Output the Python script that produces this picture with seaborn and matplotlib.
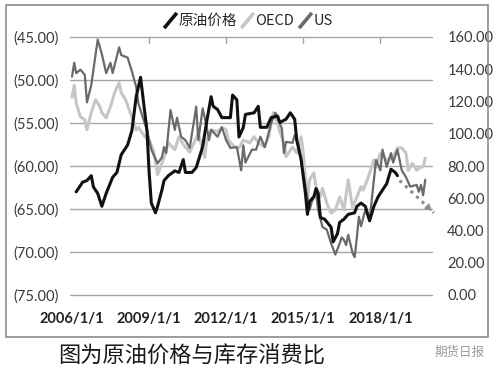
import matplotlib
matplotlib.use("Agg")
import matplotlib.pyplot as plt
from matplotlib.ticker import FuncFormatter, FixedLocator
from matplotlib.lines import Line2D
from matplotlib.patches import Rectangle
import seaborn as sns
import pandas as pd

# ---------------- data ----------------
price_dates = ["2006-03", "2006-06", "2006-08", "2006-10", "2006-11", "2007-01", "2007-03", "2007-05",
               "2007-08", "2007-10", "2007-12", "2008-03", "2008-05", "2008-07", "2008-09", "2008-12",
               "2009-01", "2009-02", "2009-04", "2009-05", "2009-07", "2009-08", "2009-10", "2010-01",
               "2010-03", "2010-05", "2010-06", "2010-09", "2010-11", "2011-02", "2011-04", "2011-06",
               "2011-07", "2011-09", "2011-11", "2012-01", "2012-03", "2012-04", "2012-06", "2012-07",
               "2012-09", "2012-10", "2013-02", "2013-04", "2013-05", "2013-08", "2013-10", "2014-01",
               "2014-02", "2014-05", "2014-07", "2014-09", "2014-10", "2014-12", "2015-02", "2015-03",
               "2015-04", "2015-06", "2015-07", "2015-08", "2015-09", "2015-11", "2016-02", "2016-03",
               "2016-05", "2016-06", "2016-08", "2016-10", "2017-01", "2017-02", "2017-04", "2017-06",
               "2017-08", "2017-10", "2017-12", "2018-03", "2018-04", "2018-06", "2018-08", "2018-09"]
price_values = [64, 70, 71, 74, 67, 63, 55, 63,
                73, 76, 87, 93, 102, 123, 135, 102,
                76, 57, 51, 55, 65, 71, 74, 77,
                76, 84, 76, 76, 79, 92, 108, 123,
                117, 115, 110, 110, 110, 124, 121, 98,
                104, 112, 113, 117, 104, 104, 110, 111,
                107, 109, 113, 109, 96, 84, 63, 50,
                58, 61, 66, 63, 48, 47, 42, 33,
                38, 45, 47, 50, 51, 55, 57, 55,
                46, 55, 61, 67, 69, 78, 76, 74]

us_dates = ["2006-01", "2006-02", "2006-03", "2006-05", "2006-07", "2006-08", "2006-10", "2006-11",
            "2007-01", "2007-03", "2007-05", "2007-07", "2007-08", "2007-11", "2007-12", "2008-03",
            "2008-05", "2008-07", "2008-08", "2008-10", "2008-12", "2009-02", "2009-05", "2009-07",
            "2009-08", "2009-09", "2009-11", "2010-01", "2010-02", "2010-04", "2010-06", "2010-08",
            "2010-11", "2010-12", "2011-02", "2011-04", "2011-05", "2011-06", "2011-09", "2011-11",
            "2012-01", "2012-03", "2012-06", "2012-08", "2012-09", "2012-10", "2013-01", "2013-03",
            "2013-05", "2013-07", "2013-08", "2013-10", "2013-12", "2014-03", "2014-04", "2014-05",
            "2014-08", "2014-09", "2014-11", "2014-12", "2015-02", "2015-04", "2015-05", "2015-07",
            "2015-08", "2015-10", "2015-12", "2016-02", "2016-04", "2016-06", "2016-07", "2016-08",
            "2016-09", "2016-10", "2016-12", "2017-01", "2017-02", "2017-03", "2017-04", "2017-06",
            "2017-08", "2017-10", "2017-11", "2018-01", "2018-02", "2018-04", "2018-06", "2018-07",
            "2018-09", "2018-11", "2019-01", "2019-03", "2019-06", "2019-07", "2019-08", "2019-09",
            "2019-10"]
us_values = [-49.6, -48.0, -49.2, -48.8, -49.4, -52.6, -50.6, -48.8,
             -45.3, -47.0, -49.2, -48.0, -49.2, -46.2, -47.1, -47.4,
             -49.0, -50.8, -52.7, -54.3, -55.8, -58.1, -59.7, -59.0,
             -57.8, -58.5, -53.5, -55.8, -54.4, -56.6, -57.0, -57.9,
             -53.1, -57.0, -53.3, -55.5, -57.0, -55.8, -56.6, -55.5,
             -57.0, -57.9, -57.8, -60.5, -57.6, -59.6, -58.1, -58.1,
             -56.6, -57.8, -57.0, -55.0, -53.8, -55.6, -58.5, -57.2,
             -57.3, -56.4, -57.8, -59.3, -62.4, -65.1, -64.2, -63.1,
             -65.1, -67.1, -67.4, -69.0, -70.3, -69.0, -68.3, -68.6,
             -69.2, -68.0, -70.1, -70.6, -68.3, -65.9, -67.0, -65.1,
             -66.3, -61.6, -59.3, -60.5, -58.1, -60.1, -58.5, -59.6,
             -58.1, -60.5, -61.3, -62.4, -62.2, -63.0, -62.2, -63.4,
             -61.6]

oecd_dates = ["2006-01", "2006-02", "2006-03", "2006-05", "2006-07", "2006-08", "2006-10", "2006-12",
              "2007-02", "2007-03", "2007-05", "2007-07", "2007-09", "2007-11", "2007-12", "2008-02",
              "2008-05", "2008-07", "2008-08", "2008-11", "2009-01", "2009-03", "2009-05", "2009-07",
              "2009-08", "2009-10", "2010-01", "2010-03", "2010-05", "2010-08", "2010-10", "2010-12",
              "2011-03", "2011-04", "2011-06", "2011-09", "2011-11", "2012-01", "2012-02", "2012-05",
              "2012-07", "2012-09", "2012-12", "2013-02", "2013-04", "2013-07", "2013-09", "2013-11",
              "2014-01", "2014-02", "2014-04", "2014-05", "2014-08", "2014-10", "2014-12", "2015-01",
              "2015-03", "2015-04", "2015-06", "2015-07", "2015-09", "2015-10", "2015-12", "2016-02",
              "2016-04", "2016-06", "2016-08", "2016-10", "2016-12", "2017-02", "2017-04", "2017-05",
              "2017-07", "2017-10", "2017-11", "2018-01", "2018-04", "2018-05", "2018-07", "2018-09",
              "2018-11", "2019-01", "2019-02", "2019-04", "2019-06", "2019-08", "2019-09", "2019-10"]
oecd_values = [-52.0, -50.6, -52.7, -54.3, -54.6, -55.8, -53.8, -52.3,
               -53.1, -53.8, -54.4, -53.1, -51.4, -50.3, -51.5, -52.3,
               -54.3, -55.8, -55.5, -56.6, -57.0, -58.1, -61.0, -59.7,
               -59.0, -57.3, -58.1, -56.6, -57.5, -58.4, -57.3, -56.2,
               -59.0, -57.0, -55.8, -56.0, -55.5, -55.8, -57.0, -57.8,
               -57.9, -57.0, -57.3, -56.6, -57.3, -57.8, -56.4, -53.8,
               -55.0, -56.0, -57.3, -58.9, -57.8, -58.5, -56.6, -58.5,
               -64.0, -61.6, -60.8, -62.4, -63.6, -62.6, -64.3, -65.5,
               -65.1, -63.6, -65.1, -61.6, -64.8, -63.6, -62.4, -62.8,
               -61.6, -59.3, -60.1, -58.5, -59.3, -59.3, -58.9, -57.9,
               -57.9, -58.5, -60.5, -59.7, -60.5, -60.1, -60.1, -59.1]

arrow_dates = ["2018-10", "2020-02"]
arrow_values = [71, 51]

left_ticks = [-45, -50, -55, -60, -65, -70, -75]
right_ticks = [0, 20, 40, 60, 80, 100, 120, 140, 160]
x_tick_labels = ["2006/1/1", "2009/1/1", "2012/1/1", "2015/1/1", "2018/1/1"]
series_names = ["原油价格", "OECD", "US"]
caption = "图为原油价格与库存消费比"
watermark = "期货日报"

# ---------------- frames ----------------
price_df = pd.DataFrame({"date": pd.to_datetime(price_dates), "value": price_values})
us_df = pd.DataFrame({"date": pd.to_datetime(us_dates), "value": us_values})
oecd_df = pd.DataFrame({"date": pd.to_datetime(oecd_dates), "value": oecd_values})

sns.set_theme(style="white")
plt.rcParams["font.family"] = ["Lato", "Noto Sans CJK SC", "DejaVu Sans"]

c_price, c_us, c_oecd = "#111111", "#6a6a6a", "#c6c6c6"
tick_color = "#3a3a3a"
grid_color = "#a6a6a6"

fig = plt.figure(figsize=(5.0, 3.73), dpi=100)
W, H = 500, 373
ax = fig.add_axes([70 / W, 1 - 295 / H, (432 - 70) / W, (295 - 37) / H])
ax2 = ax.twinx()

sns.lineplot(data=oecd_df, x="date", y="value", ax=ax, color=c_oecd, lw=2.2, zorder=2)
sns.lineplot(data=us_df, x="date", y="value", ax=ax, color=c_us, lw=1.6, zorder=3)
sns.lineplot(data=price_df, x="date", y="value", ax=ax2, color=c_price, lw=2.2, zorder=4)

ax.set_ylim(-75, -45)
ax2.set_ylim(0, 160)
ax.set_xlim(pd.Timestamp("2005-12-03"), pd.Timestamp("2020-01-05"))

# horizontal gridlines at the left-axis ticks
for yv in left_ticks:
    ax.axhline(yv, color=grid_color, lw=1.0, zorder=1, clip_on=False)

# short tick marks hanging from the top gridline
xt = pd.to_datetime([s.replace("/", "-") for s in x_tick_labels])
for xv in xt[1:]:
    ax.axvline(xv, ymin=1 - 6 / 258, ymax=1, color=grid_color, lw=1.0, zorder=1)

ax.yaxis.set_major_locator(FixedLocator(left_ticks))
ax.yaxis.set_major_formatter(FuncFormatter(lambda v, p: "({:.2f})".format(abs(v))))
ax2.yaxis.set_major_locator(FixedLocator(right_ticks))
ax2.yaxis.set_major_formatter(FuncFormatter(lambda v, p: "{:.2f}".format(v)))

ax.set_xticks(xt)
ax.set_xticklabels(x_tick_labels)

for a in (ax, ax2):
    a.grid(False)
    for s in a.spines.values():
        s.set_visible(False)
    a.set_xlabel("")
    a.set_ylabel("")

ax.tick_params(axis="y", length=0, pad=8, labelsize=10.5, labelcolor=tick_color)
ax2.tick_params(axis="y", length=0, pad=11, labelsize=10.5, labelcolor=tick_color)
ax.tick_params(axis="x", length=0, pad=12, labelsize=10.5, labelcolor="#222222")
for lab in ax.get_xticklabels():
    lab.set_fontweight("bold")

# dotted forecast arrow
ad = pd.to_datetime(arrow_dates)
ax2.plot(ad, arrow_values, linestyle=(0, (1, 1.5)), color="#8a8a8a", lw=2.2, clip_on=False, zorder=5)
ax2.annotate("", xy=(ad[1], arrow_values[1]),
             xytext=(ad[0] + (ad[1] - ad[0]) * 0.8, arrow_values[0] + (arrow_values[1] - arrow_values[0]) * 0.8),
             arrowprops=dict(arrowstyle="-|>", color="#8a8a8a", lw=0.1, mutation_scale=13),
             annotation_clip=False, zorder=5)

# legend with slanted markers
slash = [(-1, -1.2), (1, 1.2)]
handles = [Line2D([], [], linestyle="None", marker=slash, markersize=11, markeredgewidth=2.6, markeredgecolor=c)
           for c in (c_price, c_oecd, c_us)]
fig.legend(handles, series_names, loc="center", bbox_to_anchor=(248 / W, 1 - 21 / H), ncol=3,
           frameon=False, handlelength=0.9, handletextpad=0.1, columnspacing=0.3,
           prop={"family": ["Noto Sans CJK SC", "DejaVu Sans"], "size": 10.5})

# outer frame
fig.patches.append(Rectangle((6 / W, 1 - 337 / H), (488 - 6) / W, (337 - 5) / H,
                             transform=fig.transFigure, fill=False, edgecolor="#8c8c8c", lw=1.2))

fig.text(192 / W, 1 - 356 / H, caption, ha="center", va="center", fontsize=16,
         family=["Noto Sans CJK SC", "DejaVu Sans"], color="#1a1a1a")
fig.text(485 / W, 1 - 352 / H, watermark, ha="right", va="center", fontsize=9,
         family=["Noto Sans CJK SC", "DejaVu Sans"], color="#9a9a9a")

fig.savefig("out.png", dpi=100)
